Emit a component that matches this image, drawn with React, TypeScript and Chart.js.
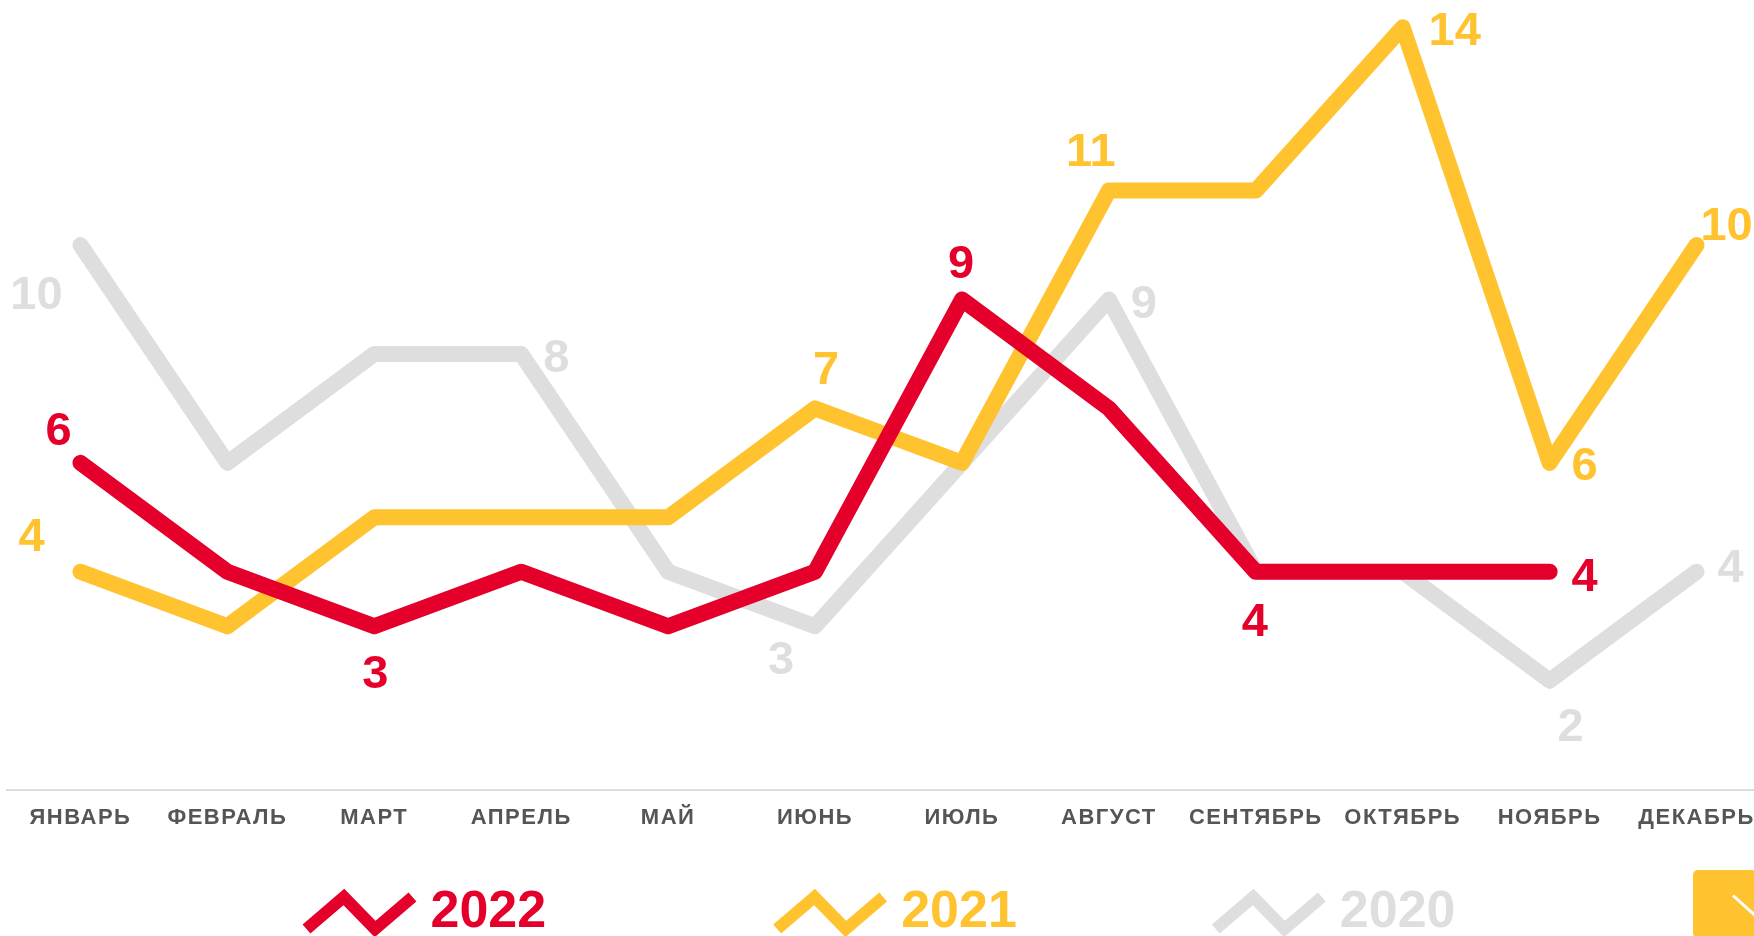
import React, { useEffect, useRef } from 'react';
import { Chart, registerables } from 'chart.js';

Chart.register(...registerables);

const VIEW_W = 1754;
const VIEW_H = 936;
const CANVAS_W = 1770;

const months = ['ЯНВАРЬ', 'ФЕВРАЛЬ', 'МАРТ', 'АПРЕЛЬ', 'МАЙ', 'ИЮНЬ', 'ИЮЛЬ', 'АВГУСТ', 'СЕНТЯБРЬ', 'ОКТЯБРЬ', 'НОЯБРЬ', 'ДЕКАБРЬ'];
const values2022 = [6, 4, 3, 4, 3, 4, 9, 7, 4, 4, 4, null];
const values2021 = [4, 3, 5, 5, 5, 7, 6, 11, 11, 14, 6, 10];
const values2020 = [10, 6, 8, 8, 4, 3, 6, 9, 4, 4, 2, 4];
const seriesNames = ['2022', '2021', '2020'];
const seriesColors = ['#E4002B', '#FFC32F', '#DEDEDE'];

// which points carry a value label: [index, dx, dy]
const labelSpots2022 = [[0, -22, -31], [2, 1, 49], [6, -1, -34], [8, -1, 51], [10, 35, 6]];
const labelSpots2021 = [[0, -49, -34], [5, 11, -37], [7, -18, -38], [9, 52, 5], [10, 35, 4], [11, 30, -18]];
const labelSpots2020 = [[0, -44, 51], [3, 35, 5], [5, -34, 35], [7, 35, 6], [10, 21, 47], [11, 34, -3]];

// horizontal gaps between legend entries
const legendGaps = [231, 199];

const FONT = '"Liberation Sans", Arial, Helvetica, sans-serif';

const labelPlugin = {
  id: 'valueLabelsAndLegend',
  beforeDraw(chart: any) {
    chart.ctx.letterSpacing = '0px';
  },
  afterDatasetsDraw(chart: any) {
    const ctx = chart.ctx;
    ctx.save();
    ctx.letterSpacing = '0px';
    ctx.font = `bold 47px ${FONT}`;
    ctx.textAlign = 'center';
    ctx.textBaseline = 'middle';
    chart.data.datasets.forEach((ds: any, di: number) => {
      const meta = chart.getDatasetMeta(di);
      (ds.labelSpots || []).forEach((spot: number[]) => {
        const [i, dx, dy] = spot;
        const el = meta.data[i];
        const v = ds.data[i];
        if (!el || v == null) return;
        ctx.fillStyle = ds.borderColor;
        ctx.fillText(String(v), el.x + dx, el.y + dy);
      });
    });
    ctx.restore();
    // letter spacing for the month tick labels drawn above datasets (ticks.z = 1)
    ctx.letterSpacing = '1.5px';
  },
  afterDraw(chart: any) {
    const ctx = chart.ctx;
    ctx.letterSpacing = '0px';
    ctx.save();
    ctx.font = `bold 52px ${FONT}`;
    const iconW = 106;
    const iconH = 16;
    const gapText = 18;
    const items = chart.data.datasets.map((ds: any) => ({
      label: ds.label,
      color: ds.borderColor,
      tw: ctx.measureText(ds.label).width,
    }));
    const total =
      items.reduce((s: number, it: any) => s + iconW + gapText + it.tw, 0) +
      legendGaps.slice(0, items.length - 1).reduce((s, g) => s + g, 0);
    let x = VIEW_W / 2 + 4 - total / 2;
    const cy = chart.height - 23;
    items.forEach((it: any, k: number) => {
      ctx.strokeStyle = it.color;
      ctx.lineWidth = 12;
      ctx.lineJoin = 'miter';
      ctx.lineCap = 'butt';
      ctx.beginPath();
      ctx.moveTo(x, cy + iconH);
      ctx.lineTo(x + iconW * 0.353, cy - iconH);
      ctx.lineTo(x + iconW * 0.647, cy + iconH);
      ctx.lineTo(x + iconW, cy - iconH);
      ctx.stroke();
      ctx.fillStyle = it.color;
      ctx.textAlign = 'left';
      ctx.textBaseline = 'middle';
      ctx.fillText(it.label, x + iconW + gapText, cy);
      x += iconW + gapText + it.tw + (legendGaps[k] || 0);
    });
    ctx.restore();
  },
};

export default function App() {
  const canvasRef = useRef<HTMLCanvasElement | null>(null);

  useEffect(() => {
    const canvas = canvasRef.current;
    if (!canvas) return;
    const mk = (label: string, data: (number | null)[], color: string, spots: number[][]) => ({
      label,
      data,
      borderColor: color,
      backgroundColor: color,
      borderWidth: 16,
      borderCapStyle: 'round',
      borderJoinStyle: 'round',
      pointRadius: 0,
      pointHoverRadius: 0,
      tension: 0,
      fill: false,
      spanGaps: false,
      labelSpots: spots,
    });
    const chart = new Chart(canvas, {
      type: 'line',
      data: {
        labels: months,
        datasets: [
          mk(seriesNames[0], values2022, seriesColors[0], labelSpots2022),
          mk(seriesNames[1], values2021, seriesColors[1], labelSpots2021),
          mk(seriesNames[2], values2020, seriesColors[2], labelSpots2020),
        ] as any,
      },
      options: {
        responsive: false,
        animation: false,
        events: [],
        layout: { padding: { left: 7, right: 0, top: 0, bottom: 90 } },
        plugins: {
          legend: { display: false },
          tooltip: { enabled: false },
          title: { display: false },
        },
        scales: {
          x: {
            offset: true,
            grid: { display: false, drawTicks: false },
            border: { display: true, color: '#DDDDDD', width: 2 },
            ticks: {
              z: 1,
              autoSkip: false,
              maxRotation: 0,
              minRotation: 0,
              padding: 15,
              color: '#555555',
              font: { family: FONT, size: 22, weight: 'bold', lineHeight: 1.2 },
            },
          },
          y: {
            display: false,
            min: 0,
            max: 14.5,
          },
        },
      } as any,
      plugins: [labelPlugin as any],
    });
    return () => chart.destroy();
  }, []);

  return (
    <div
      style={{
        position: 'fixed',
        left: 0,
        top: 0,
        width: VIEW_W,
        height: VIEW_H,
        overflow: 'hidden',
        background: '#FFFFFF',
      }}
    >
      <canvas
        ref={canvasRef}
        width={CANVAS_W}
        height={VIEW_H}
        style={{ display: 'block', width: CANVAS_W, height: VIEW_H }}
      />
      <div
        style={{
          position: 'absolute',
          left: 1693,
          top: 870,
          width: 64,
          height: 68,
          borderRadius: 5,
          background: '#FFC32F',
          overflow: 'hidden',
        }}
      >
        <div
          style={{
            position: 'absolute',
            left: 40,
            top: 24,
            width: 34,
            height: 3,
            background: '#FFFFFF',
            transform: 'rotate(42deg)',
            transformOrigin: '0 50%',
          }}
        />
      </div>
    </div>
  );
}
